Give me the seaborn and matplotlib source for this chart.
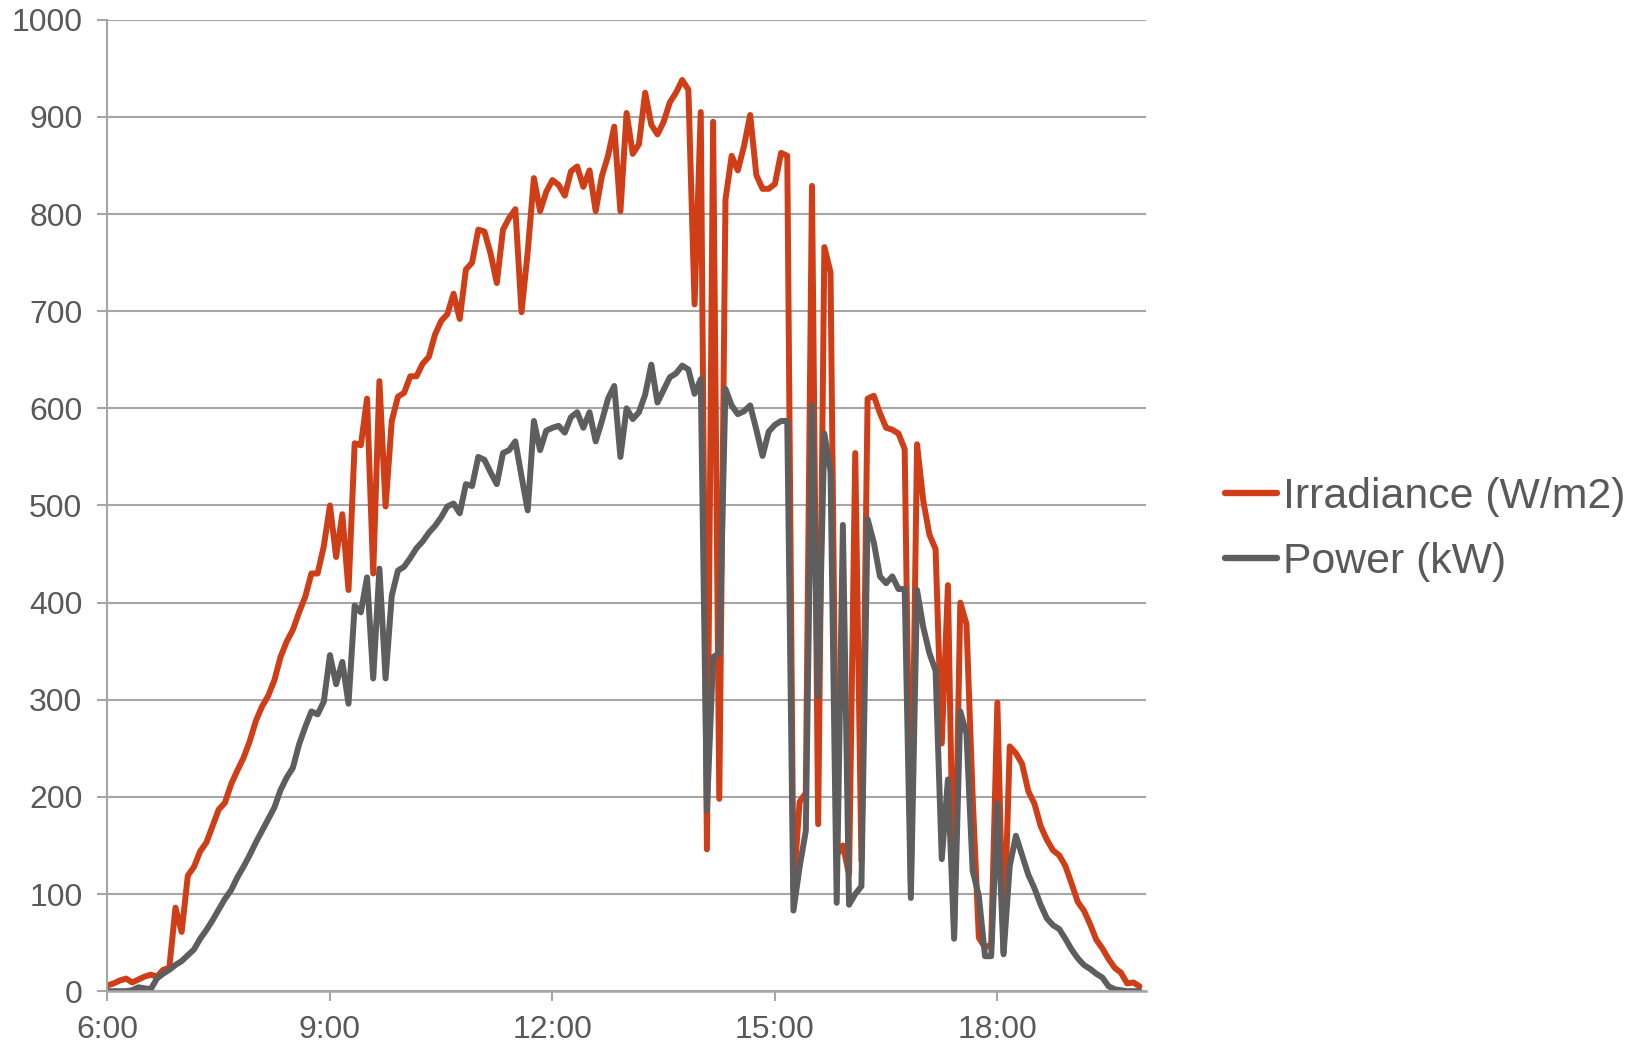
import matplotlib
matplotlib.use("Agg")
import matplotlib.pyplot as plt
import matplotlib.dates as mdates
import seaborn as sns
import pandas as pd
import numpy as np

# 5-minute samples from 6:00 to 19:55
times = pd.date_range("2020-01-01 06:00", "2020-01-01 19:55", freq="5min")

irradiance = [
    6, 8, 11, 13, 9, 12, 15, 17, 15, 22, 24, 86,            # 6:00-6:55
    61, 119, 128, 144, 153, 170, 187, 194, 213, 227, 240, 257,   # 7:00-7:55
    278, 293, 304, 320, 344, 360, 372, 390, 406, 430, 430, 458,  # 8:00-8:55
    500, 447, 491, 413, 564, 562, 610, 430, 628, 499, 587, 612,  # 9:00-9:55
    616, 633, 633, 646, 653, 676, 690, 697, 718, 692, 743, 750,  # 10:00-10:55
    784, 782, 759, 729, 784, 796, 805, 699, 761, 837, 803, 823,  # 11:00-11:55
    835, 830, 819, 844, 849, 828, 845, 803, 839, 860, 890, 803,  # 12:00-12:55
    904, 862, 872, 925, 892, 882, 895, 915, 925, 938, 928, 707,  # 13:00-13:55
    905, 146, 895, 198, 815, 860, 845, 870, 902, 840, 826, 826,  # 14:00-14:55
    831, 863, 860, 105, 195, 204, 829, 172, 766, 740, 140, 150,  # 15:00-15:55
    120, 554, 134, 610, 613, 595, 580, 578, 574, 558, 110, 563,  # 16:00-16:55
    505, 470, 455, 255, 418, 60, 400, 378, 200, 55, 45, 48,      # 17:00-17:55
    297, 40, 252, 245, 234, 206, 193, 170, 156, 145, 140, 129,   # 18:00-18:55
    111, 92, 83, 69, 53, 44, 33, 24, 19, 8, 9, 5,                # 19:00-19:55
]

power = [
    0, 0, 0, 0, 1, 4, 3, 2, 13, 18, 22, 27,                      # 6:00-6:55
    31, 37, 43, 54, 63, 73, 84, 95, 104, 117, 128, 140,          # 7:00-7:55
    153, 165, 177, 189, 207, 220, 230, 254, 272, 288, 285, 298,  # 8:00-8:55
    346, 316, 339, 296, 397, 390, 426, 322, 435, 322, 407, 433,  # 9:00-9:55
    437, 446, 456, 463, 472, 479, 488, 499, 502, 492, 522, 520,  # 10:00-10:55
    550, 547, 534, 522, 554, 557, 566, 530, 495, 587, 557, 577,  # 11:00-11:55
    580, 582, 575, 591, 596, 580, 596, 566, 587, 610, 623, 550,  # 12:00-12:55
    600, 589, 596, 614, 645, 606, 619, 632, 636, 644, 640, 615,  # 13:00-13:55
    630, 186, 344, 348, 620, 603, 594, 597, 603, 578, 551, 576,  # 14:00-14:55
    583, 587, 587, 83, 128, 165, 603, 303, 574, 535, 91, 480,    # 15:00-15:55
    89, 100, 108, 486, 462, 427, 420, 427, 414, 414, 96, 413,    # 16:00-16:55
    375, 348, 330, 136, 218, 54, 288, 265, 124, 98, 36, 36,      # 17:00-17:55
    193, 38, 129, 160, 140, 120, 106, 89, 75, 68, 64, 54,        # 18:00-18:55
    43, 34, 27, 23, 18, 14, 5, 2, 1, 0, 0, 0,                    # 19:00-19:55
]

series_names = ["Irradiance (W/m2)", "Power (kW)"]
series_colors = ["#D03E17", "#5E5E5E"]
y_ticks = list(range(0, 1001, 100))

df = pd.DataFrame({
    "time": list(times) * 2,
    "value": irradiance + power,
    "series": [series_names[0]] * len(times) + [series_names[1]] * len(times),
})

sns.set_theme(style="white")
plt.rcParams["font.family"] = ["Liberation Sans", "DejaVu Sans"]

fig = plt.figure(figsize=(16.36, 10.47), dpi=100)
ax = fig.add_axes([0.0657, 0.0533, 0.6346, 0.9278])

lw = 4.3
sns.lineplot(data=df, x="time", y="value", hue="series", hue_order=series_names,
             palette=series_colors, linewidth=lw, ax=ax, legend=True)
for line in ax.get_lines():
    line.set_solid_joinstyle("round")
    line.set_solid_capstyle("round")

ax.set_xlim(pd.Timestamp("2020-01-01 06:00"), pd.Timestamp("2020-01-01 20:00"))
ax.set_ylim(0, 1000)
ax.set_yticks(y_ticks)
ax.xaxis.set_major_locator(mdates.HourLocator(byhour=[6, 9, 12, 15, 18]))
ax.xaxis.set_major_formatter(mdates.DateFormatter("%-H:%M"))

grid_c = "#A6A6A6"
ax.grid(axis="y", color=grid_c, linewidth=1.5)
ax.set_axisbelow(True)
for s in ["top", "right"]:
    ax.spines[s].set_visible(False)
ax.spines["left"].set_color(grid_c)
ax.spines["left"].set_linewidth(1.5)
ax.spines["bottom"].set_color(grid_c)
ax.spines["bottom"].set_linewidth(1.8)

ax.tick_params(axis="y", direction="out", length=7, width=1.5, color=grid_c,
               labelsize=23, labelcolor="#595959", pad=11, left=True)
ax.tick_params(axis="x", direction="out", length=7, width=1.5, color=grid_c,
               labelsize=23, labelcolor="#595959", pad=10, bottom=True)
ax.set_xlabel("")
ax.set_ylabel("")

leg = ax.legend(loc="center left", bbox_to_anchor=(0.749, 0.494),
                bbox_transform=fig.transFigure, frameon=False, fontsize=30.8,
                handlelength=1.2, handletextpad=0.15, labelspacing=0.58,
                borderpad=0, borderaxespad=0)
for t in leg.get_texts():
    t.set_color("#595959")
for h in leg.get_lines():
    h.set_linewidth(lw + 0.3)
    h.set_solid_capstyle("round")

fig.savefig("out.png", dpi=100)
